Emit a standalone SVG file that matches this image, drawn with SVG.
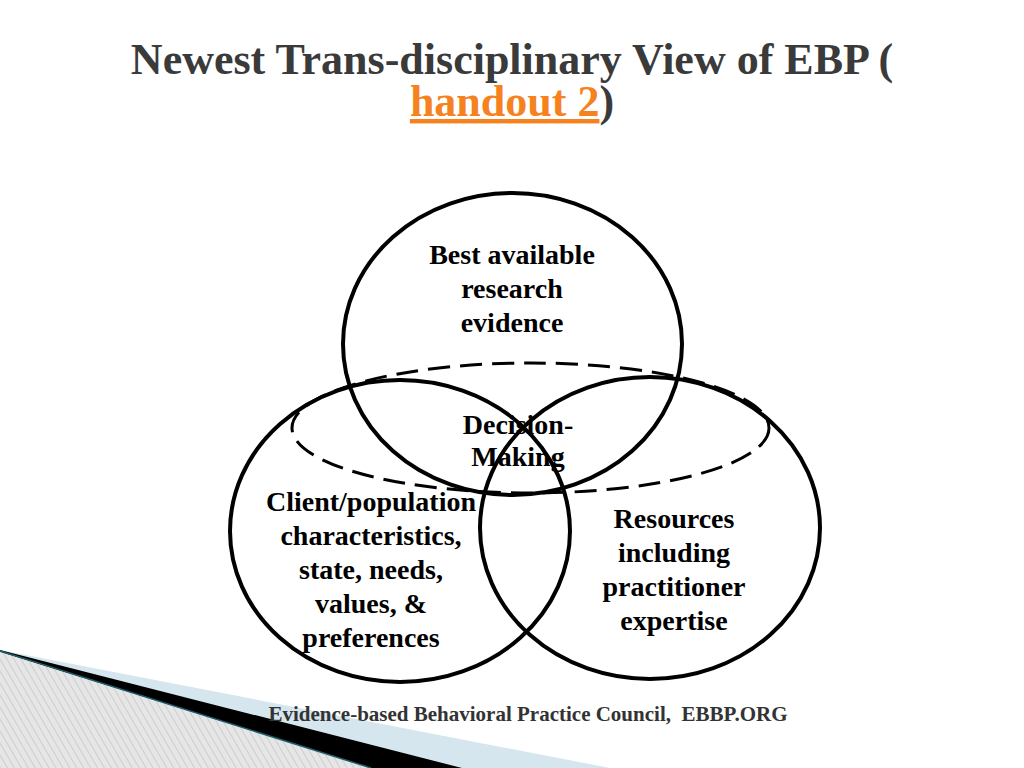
<svg xmlns="http://www.w3.org/2000/svg" width="1024" height="768" viewBox="0 0 1024 768">
<defs>
<pattern id="hatch" patternUnits="userSpaceOnUse" width="6" height="6" patternTransform="rotate(-30)">
<rect width="6" height="6" fill="#e6e6e6"/>
<line x1="0" y1="0" x2="0" y2="6" stroke="#bcbcbc" stroke-width="1.2"/>
</pattern>
<style>
.title{font-family:"Liberation Serif",serif;font-weight:bold;font-size:44px;fill:#3a3a3a;text-anchor:middle}
.lbl{font-family:"Liberation Serif",serif;font-weight:bold;font-size:28px;fill:#000;text-anchor:middle}
.foot{font-family:"Liberation Serif",serif;font-weight:bold;font-size:21px;fill:#333;text-anchor:middle}
.circ{fill:none;stroke:#000;stroke-width:4}
.dash{fill:none;stroke:#000;stroke-width:3;stroke-dasharray:22 10}
</style>
</defs>
<rect width="1024" height="768" fill="#fff"/>
<g id="decoration">
<polygon points="0,650 610,768 0,768" fill="#d5e6ee"/>
<polygon points="0,650 462,768 371,768 0,652" fill="#000"/>
<polygon points="0,652 371,768 0,768" fill="url(#hatch)"/>
<line x1="0" y1="651" x2="371" y2="768" stroke="#1f5f6e" stroke-width="1.5"/>
</g>
<g id="title">
<text class="title" x="512" y="74">Newest Trans-disciplinary View of EBP (</text>
<text class="title" x="512" y="116"><tspan fill="#f5821f" text-decoration="underline">handout 2</tspan>)</text>
</g>
<g id="node-research">
<ellipse class="circ" cx="512.5" cy="344" rx="169.5" ry="151"/>
<text class="lbl" x="512" y="264">Best available</text>
<text class="lbl" x="512" y="298">research</text>
<text class="lbl" x="512" y="332">evidence</text>
</g>
<g id="node-client">
<ellipse class="circ" cx="400" cy="531" rx="170" ry="151"/>
<text class="lbl" x="371" y="511">Client/population</text>
<text class="lbl" x="371" y="545">characteristics,</text>
<text class="lbl" x="371" y="579">state, needs,</text>
<text class="lbl" x="371" y="613">values, &amp;</text>
<text class="lbl" x="371" y="647">preferences</text>
</g>
<g id="node-resources">
<ellipse class="circ" cx="650" cy="528" rx="170" ry="151"/>
<text class="lbl" x="674" y="528">Resources</text>
<text class="lbl" x="674" y="562">including</text>
<text class="lbl" x="674" y="596">practitioner</text>
<text class="lbl" x="674" y="630">expertise</text>
</g>
<g id="node-decision">
<ellipse class="dash" cx="530.5" cy="428" rx="238.5" ry="65"/>
<text class="lbl" x="518" y="434">Decision-</text>
<text class="lbl" x="518" y="466">Making</text>
</g>
<g id="footer">
<text class="foot" x="528" y="721" xml:space="preserve">Evidence-based Behavioral Practice Council,  EBBP.ORG</text>
</g>
</svg>
